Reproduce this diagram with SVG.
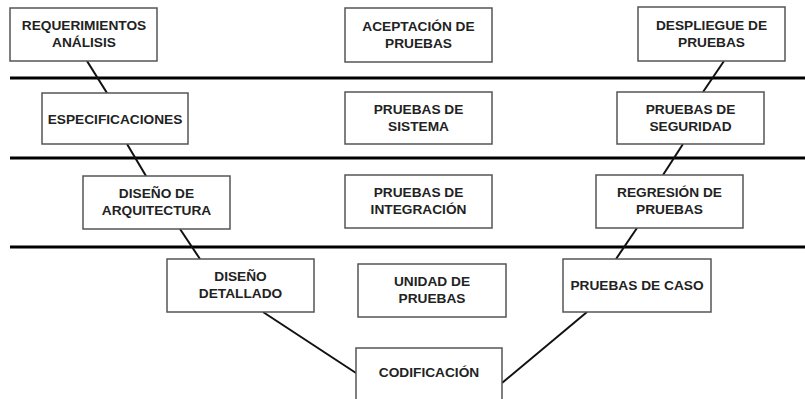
<svg xmlns="http://www.w3.org/2000/svg" width="805" height="399" viewBox="0 0 805 399">
<style>
.box{fill:#fff;stroke:#555;stroke-width:1.5}
.t{font-family:"Liberation Sans",Arial,sans-serif;font-weight:bold;font-size:13.7px;fill:#222;text-anchor:middle}
.sep{stroke:#000;stroke-width:3}
.c{stroke:#111;stroke-width:2;fill:none}
</style>
<rect width="805" height="399" fill="#fff"/>
<g id="separators">
<line class="sep" x1="10" y1="78" x2="805" y2="78"/>
<line class="sep" x1="10" y1="158" x2="805" y2="158"/>
<line class="sep" x1="10" y1="247" x2="805" y2="247"/>
</g>
<g id="connectors">
<line class="c" x1="87" y1="61" x2="107" y2="93"/>
<line class="c" x1="724" y1="61" x2="703" y2="92"/>
<line class="c" x1="127" y1="144" x2="146" y2="176"/>
<line class="c" x1="683" y1="144" x2="663" y2="175"/>
<line class="c" x1="180" y1="229" x2="200" y2="259"/>
<line class="c" x1="637" y1="228" x2="616" y2="259"/>
<line class="c" x1="263" y1="312" x2="356" y2="373"/>
<line class="c" x1="502" y1="383" x2="587" y2="312"/>
</g>
<g id="n1"><rect class="box" x="10" y="8" width="147" height="53"/><text class="t" x="84" y="30">REQUERIMIENTOS</text><text class="t" x="84" y="47">ANÁLISIS</text></g>
<g id="n2"><rect class="box" x="345" y="8" width="147" height="54"/><text class="t" x="418.5" y="31">ACEPTACIÓN DE</text><text class="t" x="418.5" y="48">PRUEBAS</text></g>
<g id="n3"><rect class="box" x="638" y="7" width="147" height="54"/><text class="t" x="711.5" y="30">DESPLIEGUE DE</text><text class="t" x="711.5" y="47">PRUEBAS</text></g>
<g id="n4"><rect class="box" x="42" y="93" width="146" height="51"/><text class="t" x="115" y="123.5">ESPECIFICACIONES</text></g>
<g id="n5"><rect class="box" x="345" y="92" width="147" height="52"/><text class="t" x="418.5" y="114">PRUEBAS DE</text><text class="t" x="418.5" y="131">SISTEMA</text></g>
<g id="n6"><rect class="box" x="617" y="92" width="147" height="52"/><text class="t" x="690.5" y="114">PRUEBAS DE</text><text class="t" x="690.5" y="131">SEGURIDAD</text></g>
<g id="n7"><rect class="box" x="83" y="176" width="147" height="53"/><text class="t" x="156.5" y="198">DISEÑO DE</text><text class="t" x="156.5" y="215">ARQUITECTURA</text></g>
<g id="n8"><rect class="box" x="345" y="175" width="147" height="53"/><text class="t" x="418.5" y="197">PRUEBAS DE</text><text class="t" x="418.5" y="214">INTEGRACIÓN</text></g>
<g id="n9"><rect class="box" x="596" y="175" width="147" height="53"/><text class="t" x="669.5" y="197">REGRESIÓN DE</text><text class="t" x="669.5" y="214">PRUEBAS</text></g>
<g id="n10"><rect class="box" x="167" y="259" width="147" height="53"/><text class="t" x="240.5" y="281">DISEÑO</text><text class="t" x="240.5" y="298">DETALLADO</text></g>
<g id="n11"><rect class="box" x="358" y="264" width="148" height="53"/><text class="t" x="432" y="286">UNIDAD DE</text><text class="t" x="432" y="303">PRUEBAS</text></g>
<g id="n12"><rect class="box" x="563" y="259" width="148" height="53"/><text class="t" x="637" y="290">PRUEBAS DE CASO</text></g>
<g id="n13"><rect class="box" x="356" y="348" width="146" height="60"/><text class="t" x="429" y="377">CODIFICACIÓN</text></g>
</svg>
